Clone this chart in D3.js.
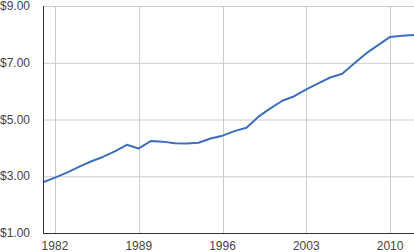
<!DOCTYPE html>
<html><head><meta charset="utf-8">
<script src="https://cdn.jsdelivr.net/npm/d3@7"></script>
<style>body{margin:0;background:#fff}svg{display:block}text{font-family:"Liberation Sans",Arial,sans-serif;}</style>
</head><body><svg id="c" width="414" height="252"></svg>
<script>
const years = [1981,1982,1983,1984,1985,1986,1987,1988,1989,1990,1991,1992,1993,1994,1995,1996,1997,1998,1999,2000,2001,2002,2003,2004,2005,2006,2007,2008,2009,2010,2011,2012];
const values = [2.79,2.95,3.13,3.33,3.52,3.68,3.88,4.11,3.98,4.24,4.22,4.16,4.15,4.18,4.33,4.43,4.59,4.71,5.10,5.39,5.66,5.82,6.06,6.27,6.48,6.61,6.97,7.33,7.62,7.91,7.95,7.98];
const xTicks = [1982,1989,1996,2003,2010];
const yTicks = [1,3,5,7,9];

const svg = d3.select("#c");
const L=43, R=414, T=6, B=233;
const x = d3.scaleLinear().domain([1981,2012]).range([L,R]);
const y = d3.scaleLinear().domain([1,9]).range([B,T]);

// gridlines
svg.append("g").selectAll("line").data(yTicks).join("line")
  .attr("x1",L).attr("x2",R).attr("y1",d=>y(d)+0.5).attr("y2",d=>y(d)+0.5)
  .attr("stroke","#cccccc").attr("stroke-width",1);
svg.append("g").selectAll("line").data(xTicks).join("line")
  .attr("y1",T).attr("y2",B).attr("x1",d=>Math.round(x(d))+0.5).attr("x2",d=>Math.round(x(d))+0.5)
  .attr("stroke","#cccccc").attr("stroke-width",1);

// labels
svg.append("g").selectAll("text").data(yTicks).join("text")
  .attr("x",30).attr("y",d=>y(d)).attr("dy","0.35em").attr("text-anchor","end")
  .attr("font-size",12).attr("fill","#444")
  .text(d=>"$"+d.toFixed(2));
svg.append("g").selectAll("text").data(xTicks).join("text")
  .attr("x",d=>x(d)).attr("y",250).attr("text-anchor","middle")
  .attr("font-size",12).attr("fill","#444")
  .text(d=>d);

// line
svg.append("path").datum(years.map((yr,i)=>[yr,values[i]]))
  .attr("fill","none").attr("stroke","#3d6fc0").attr("stroke-width",2)
  .attr("stroke-linejoin","round")
  .attr("d",d3.line().x(d=>x(d[0])).y(d=>y(d[1])));

// axes lines
svg.append("line").attr("x1",L+0.5).attr("x2",L+0.5).attr("y1",T).attr("y2",B+1).attr("stroke","#333");
svg.append("line").attr("x1",L).attr("x2",R).attr("y1",B+0.5).attr("y2",B+0.5).attr("stroke","#333");
</script></body></html>
